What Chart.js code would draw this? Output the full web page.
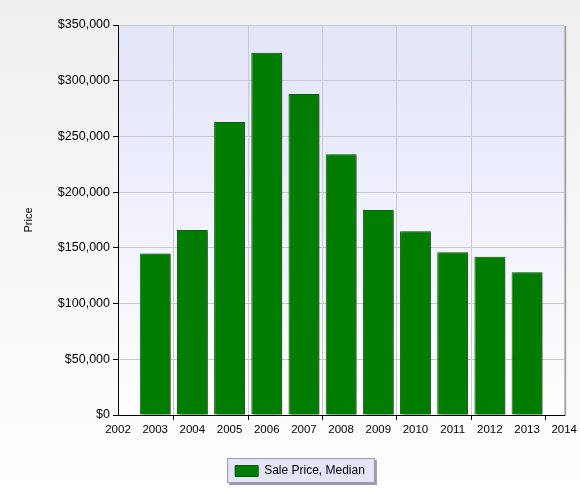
<!DOCTYPE html>
<html>
<head>
<meta charset="utf-8">
<script src="https://cdn.jsdelivr.net/npm/chart.js@4.4.0/dist/chart.umd.min.js"></script>
<style>
html,body{margin:0;padding:0;background:#fff;}
#wrap{width:580px;height:493px;position:relative;}
</style>
</head>
<body>
<div id="wrap"><canvas id="c" width="580" height="493"></canvas></div>
<script>
const years = [2003, 2004, 2005, 2006, 2007, 2008, 2009, 2010, 2011, 2012, 2013];
const medianPrice = [145000, 166000, 263000, 325000, 288000, 234000, 184000, 165000, 146000, 142000, 128000];
const seriesLabel = 'Sale Price, Median';
const yTitle = 'Price';

const FONT = 'Arial, "Liberation Sans", sans-serif';
const LEGEND_SHIFT = 17;

const bgPlugin = {
  id: 'bg',
  afterUpdate(chart) {
    const lg = chart.legend;
    if (lg) {
      lg.left += LEGEND_SHIFT;
      lg.right += LEGEND_SHIFT;
      (lg.legendHitBoxes || []).forEach(h => { h.left += LEGEND_SHIFT; });
    }
  },
  beforeDraw(chart) {
    const ctx = chart.ctx;
    const W = chart.width, H = chart.height;
    ctx.save();
    let g = ctx.createLinearGradient(0, 0, 0, H);
    g.addColorStop(0, '#efefef');
    g.addColorStop(1, '#ffffff');
    ctx.fillStyle = g;
    ctx.fillRect(0, 0, W, H);
    const a = chart.chartArea;
    ctx.fillStyle = '#a0a0a0';
    ctx.fillRect(a.right, a.top + 1, 2, a.bottom - a.top);
    g = ctx.createLinearGradient(0, a.top, 0, a.bottom);
    g.addColorStop(0, '#e2e4f8');
    g.addColorStop(1, '#ffffff');
    ctx.fillStyle = g;
    ctx.fillRect(a.left, a.top, a.right - a.left, a.bottom - a.top);
    const lg = chart.legend;
    if (lg && lg.legendHitBoxes && lg.legendHitBoxes.length) {
      const hb = lg.legendHitBoxes[0];
      const x0 = hb.left - 8, y0 = hb.top - 7;
      const w = hb.width + 18, h = 25;
      ctx.fillStyle = '#9a9aa8';
      ctx.fillRect(x0 + 2, y0 + 2, w, h);
      ctx.fillStyle = '#e4e5f7';
      ctx.fillRect(x0, y0, w, h);
      ctx.strokeStyle = '#9a9aae';
      ctx.lineWidth = 1;
      ctx.strokeRect(x0 + 0.5, y0 + 0.5, w - 1, h - 1);
    }
    ctx.restore();
  },
  beforeDatasetsDraw(chart) {
    const ctx = chart.ctx;
    ctx.save();
    ctx.shadowColor = 'rgba(70,70,70,0.75)';
    ctx.shadowOffsetX = 3;
    ctx.shadowOffsetY = 1;
    ctx.shadowBlur = 2;
  },
  afterDatasetsDraw(chart) {
    chart.ctx.restore();
  }
};

new Chart(document.getElementById('c'), {
  type: 'bar',
  data: {
    datasets: [{
      label: seriesLabel,
      data: years.map((y, i) => ({x: y, y: medianPrice[i]})),
      backgroundColor: '#007d00',
      borderColor: '#006a00',
      borderWidth: 1,
      barPercentage: 0.83,
      categoryPercentage: 1.0
    }]
  },
  plugins: [bgPlugin],
  options: {
    responsive: false,
    animation: false,
    devicePixelRatio: 1,
    layout: {padding: {top: 25, right: 14, left: 0, bottom: 6}},
    plugins: {
      tooltip: {enabled: false},
      legend: {
        position: 'bottom',
        labels: {
          boxWidth: 23,
          boxHeight: 11,
          padding: 12,
          color: '#000',
          font: {family: FONT, size: 12},
          generateLabels(chart) {
            return [{
              text: seriesLabel,
              fillStyle: '#007d00',
              strokeStyle: '#005a00',
              lineWidth: 1,
              datasetIndex: 0
            }];
          }
        }
      }
    },
    scales: {
      x: {
        type: 'linear',
        min: 2002,
        max: 2014,
        offset: false,
        afterFit(scale) { scale.height = 38; },
        ticks: {
          stepSize: 1,
          color: '#000',
          padding: 3,
          autoSkip: false,
          maxRotation: 0,
          font: {family: FONT, size: 11.5},
          callback: v => String(v)
        },
        grid: {
          color: c => (c.tick && c.tick.value % 2 === 0 && c.tick.value !== 2002 && c.tick.value !== 2014) ? '#c9c9d4' : 'rgba(0,0,0,0)',
          tickColor: c => (c.tick && c.tick.value % 2 === 0) ? '#000' : 'rgba(0,0,0,0)',
          tickLength: 5,
          lineWidth: 1
        },
        border: {display: true, color: '#000', width: 1}
      },
      y: {
        min: 0,
        max: 350000,
        afterFit(scale) { scale.width = 118; },
        ticks: {
          stepSize: 50000,
          color: '#000',
          padding: 3,
          font: {family: FONT, size: 12.5},
          callback: v => '$' + Number(v).toLocaleString('en-US')
        },
        grid: {
          color: '#c9c9d4',
          tickColor: '#000',
          tickLength: 5,
          lineWidth: 1
        },
        border: {display: true, color: '#000', width: 1},
        title: {
          display: true,
          text: yTitle,
          color: '#000',
          font: {family: FONT, size: 11},
          padding: {top: 22, bottom: 0}
        }
      }
    }
  }
});
</script>
</body>
</html>
